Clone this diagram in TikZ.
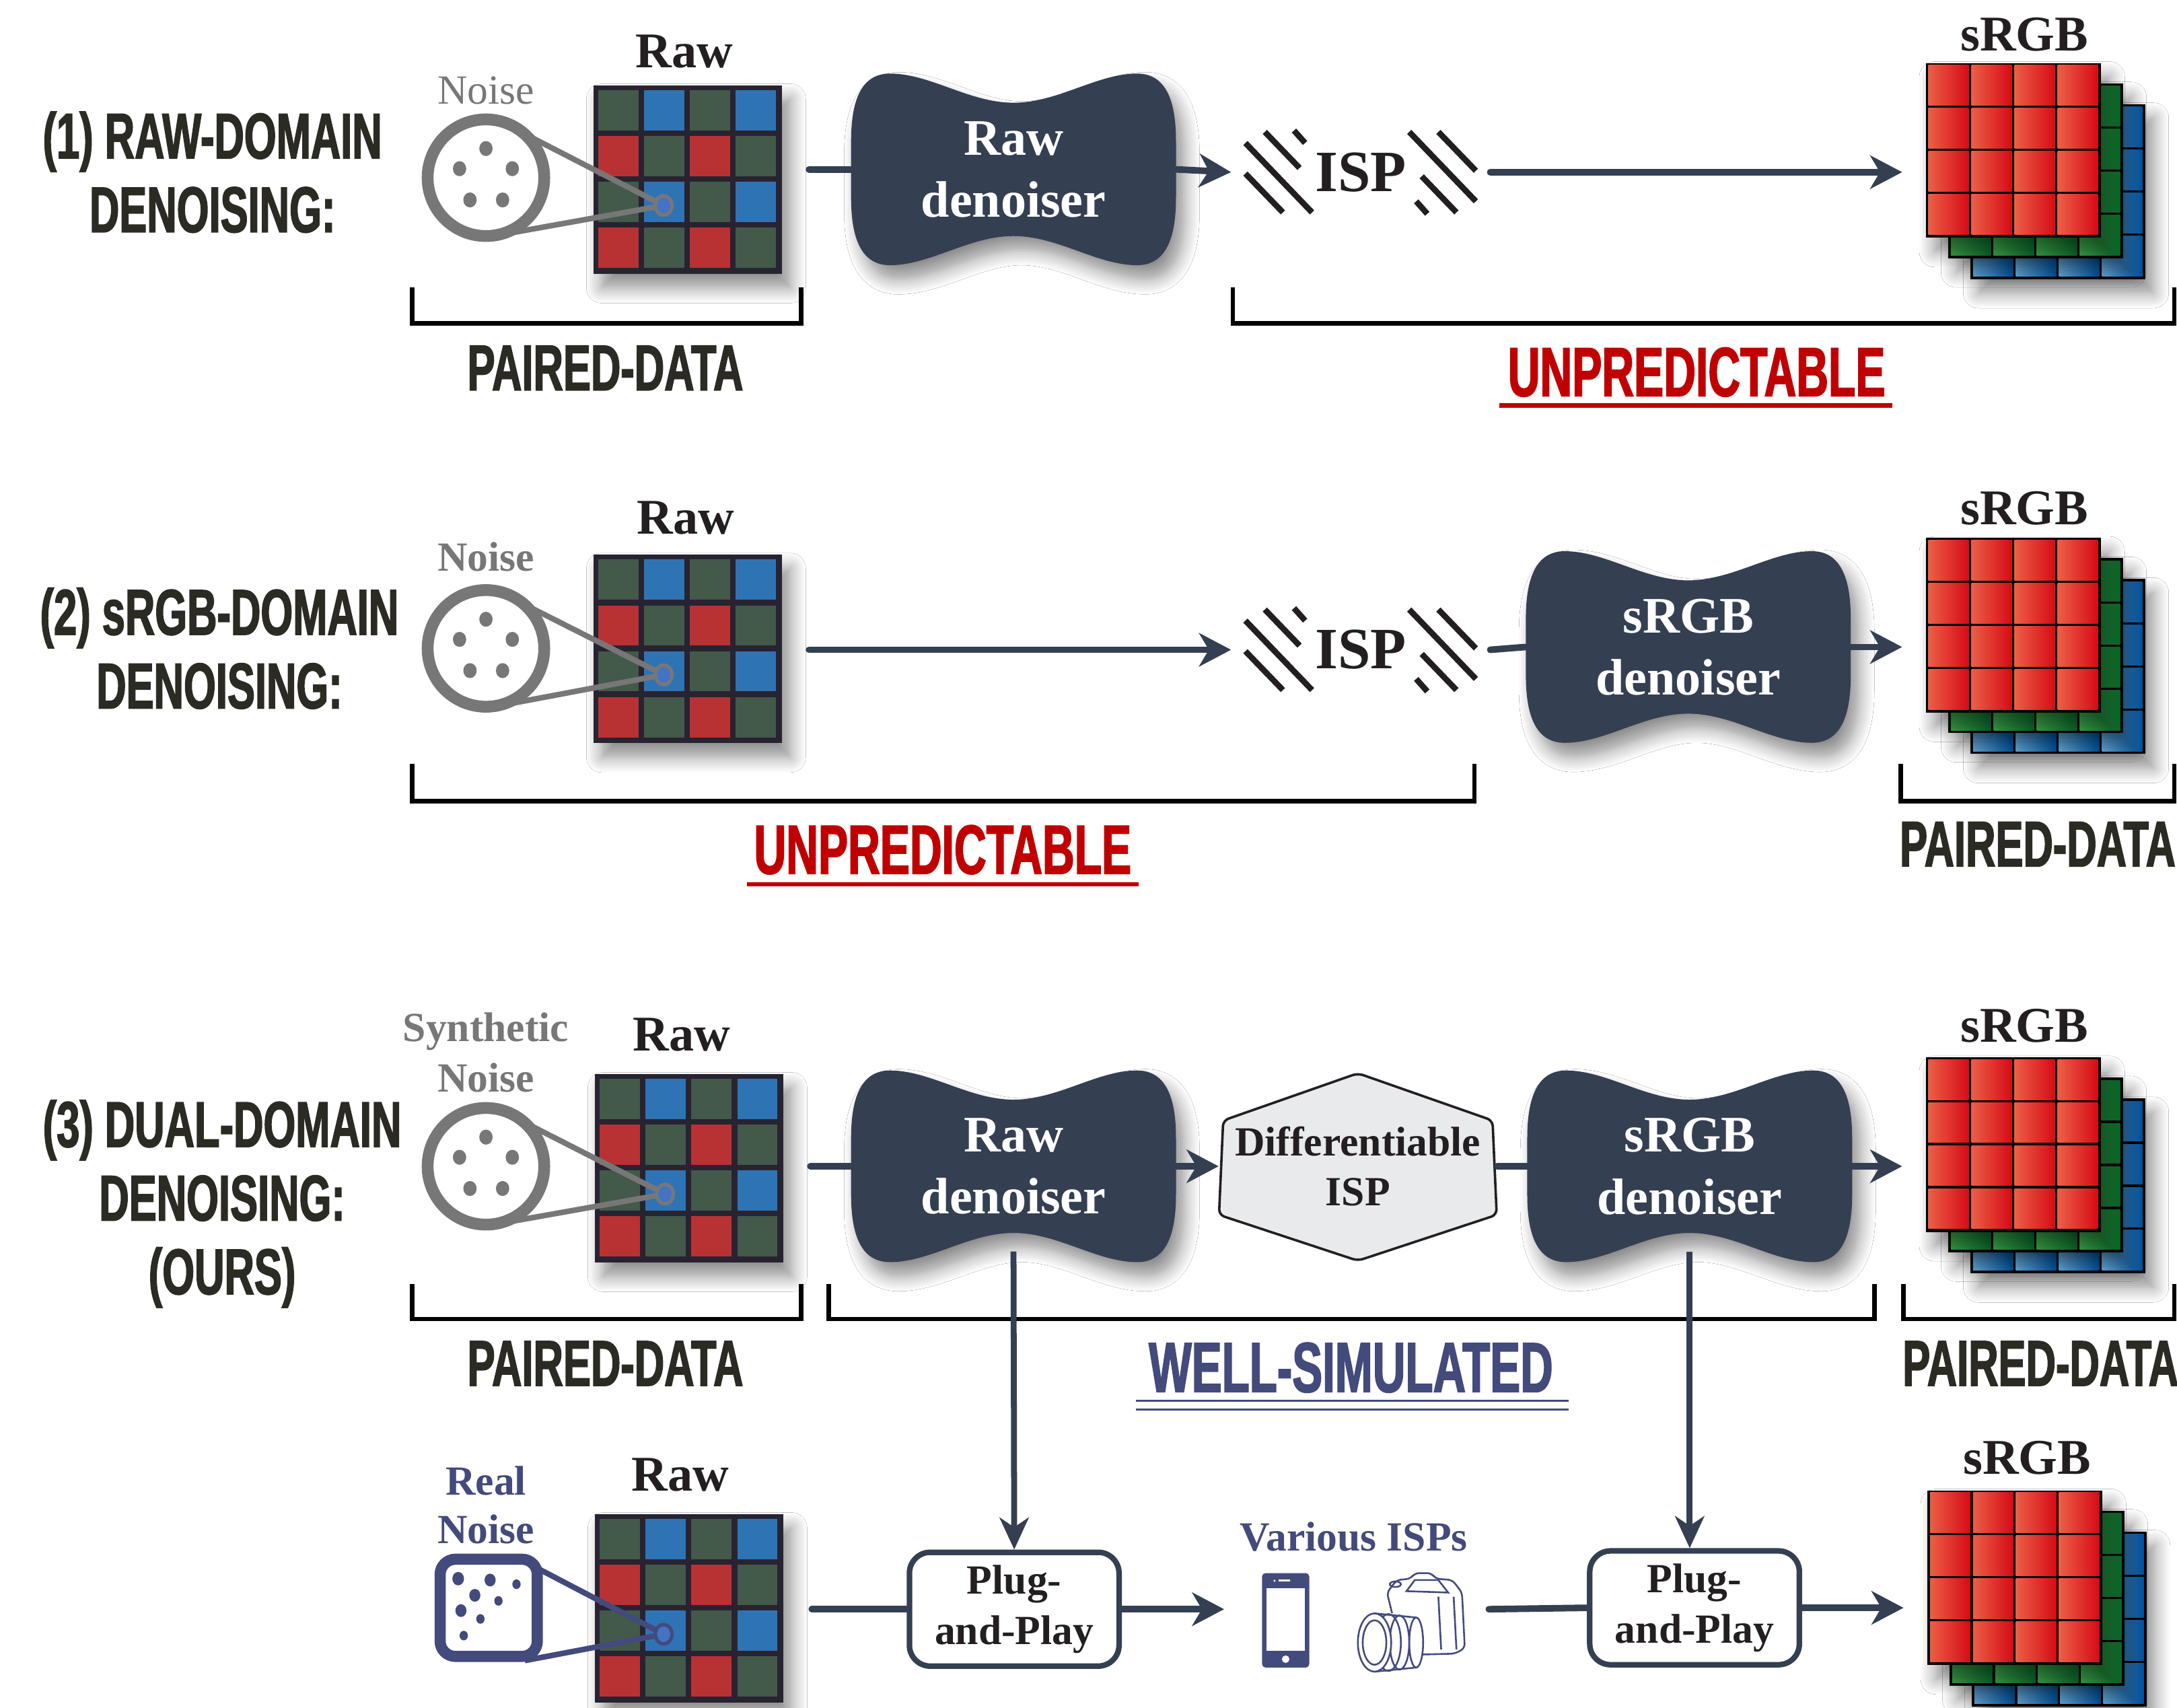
\documentclass[tikz,border=0pt]{standalone}
\usepackage{fontspec}
\setmainfont{Liberation Serif}
\newfontfamily\dispfont{Liberation Sans}[FakeStretch=0.64, FakeBold=1.6]
\usetikzlibrary{arrows.meta,shadows.blur}

\definecolor{slate}{HTML}{343F52}
\definecolor{ink}{HTML}{231F20}
\definecolor{olive}{HTML}{2B2B24}
\definecolor{unred}{HTML}{C00000}
\definecolor{navy}{HTML}{434A7C}
\definecolor{noisegray}{HTML}{777777}
\definecolor{bayerG}{HTML}{43594A}
\definecolor{bayerB}{HTML}{2E74B5}
\definecolor{bayerR}{HTML}{B83234}
\definecolor{gridline}{HTML}{282330}
\definecolor{dotblue}{HTML}{4472C4}
\definecolor{hexfill}{HTML}{E9EAEC}
\definecolor{redL}{HTML}{EC5E46}
\definecolor{redR}{HTML}{D40C16}
\definecolor{grnL}{HTML}{3DAA4A}
\definecolor{grnR}{HTML}{0B6A2C}
\definecolor{bluL}{HTML}{6BB3E8}
\definecolor{bluR}{HTML}{0058A8}

\tikzset{
  conn/.style={draw=slate, line width=0.095cm, line cap=round},
  arr/.style={conn, -{Stealth[length=0.46cm, width=0.48cm, inset=0.14cm]}},
  vconn/.style={draw=slate, line width=0.085cm, -{Stealth[length=0.46cm, width=0.42cm, inset=0.14cm]}},
  bracket/.style={draw=black, line width=0.065cm},
  softshadow/.style={blur shadow={shadow xshift=0.12cm, shadow yshift=-0.2cm,
      shadow blur steps=8, shadow blur radius=0.22cm, shadow opacity=45}},
  rawframe/.style={fill=gridline, minimum width=2.72cm, minimum height=2.72cm, inner sep=0, softshadow},
  stackframe/.style={fill=black, minimum width=2.52cm, minimum height=2.52cm, inner sep=0, softshadow},
  dentext/.style={text=white, font=\bfseries\fontsize{21}{25.5}\selectfont, align=center,
      minimum width=4.68cm, minimum height=2.76cm, inner sep=0},
  hextext/.style={text=ink, font=\bfseries\fontsize{17}{20.5}\selectfont, align=center,
      minimum width=4.0cm, minimum height=2.7cm, inner sep=0},
  isptext/.style={text=ink, font=\bfseries\fontsize{24}{28}\selectfont,
      minimum width=3.72cm, minimum height=1.4cm, inner sep=0},
  hatch/.style={draw=ink, line width=0.085cm},
  pnp/.style={draw=slate, line width=0.08cm, fill=white, rounded corners=0.3cm,
      minimum width=3.02cm, minimum height=1.64cm, align=center, text=ink,
      font=\bfseries\fontsize{17}{20.5}\selectfont, inner sep=0},
  imglabel/.style={text=ink, font=\bfseries\fontsize{20.5}{24}\selectfont, inner sep=0},
  graylabel/.style={text=noisegray, font=\bfseries\fontsize{17}{20.5}\selectfont, align=center, inner sep=0},
  navylabel/.style={text=navy, font=\bfseries\fontsize{17}{20}\selectfont, align=center, inner sep=0},
  rowlabel/.style={text=olive, font=\dispfont\bfseries\fontsize{26.5}{30.2}\selectfont, align=center, inner sep=0},
  tag/.style={text=olive, font=\dispfont\bfseries\fontsize{26.5}{30}\selectfont, inner sep=0},
  tagred/.style={text=unred, font=\dispfont\bfseries\fontsize{28.5}{32}\selectfont, inner sep=0},
  tagnavy/.style={text=navy, font=\dispfont\bfseries\fontsize{29}{33}\selectfont, inner sep=0},
}

% Bayer mosaic: name, left, top
\newcommand\rawgrid[3]{%
  \node[rawframe, anchor=north west] (#1) at (#2,#3) {};
  \foreach \r/\ca/\cb in {0/bayerG/bayerB,1/bayerR/bayerG,2/bayerG/bayerB,3/bayerR/bayerG}{%
    \foreach \c/\cc in {0/\ca,1/\cb,2/\ca,3/\cb}{%
      \fill[\cc] (#2+4+\c*33,#3+4+\r*33) rectangle ++(29,29);
    }%
  }%
}

% three stacked colour planes: name, left, top
\newcommand\srgbstack[3]{%
  \foreach \dx/\dy/\lc/\rc in {32/30/bluL/bluR,16/15/grnL/grnR}{%
    \fill[black, softshadow] (#2+\dx,#3+\dy) rectangle ++(126,126);
    \foreach \i in {0,...,3}{\foreach \j in {0,...,3}{%
      \shade[left color=\lc, right color=\rc] (#2+\dx+2+\i*31,#3+\dy+2+\j*31) rectangle ++(29,29);}}%
  }%
  \node[stackframe, anchor=north west] (#1) at (#2,#3) {};
  \foreach \i in {0,...,3}{\foreach \j in {0,...,3}{%
    \shade[left color=redL, right color=redR] (#2+2+\i*31,#3+2+\j*31) rectangle ++(29,29);}}%
}

% denoiser blob: name, centre, text
\newcommand\denoiser[3]{%
  \fill[slate, softshadow, shift={#2}]
    (-89,-69) .. controls (-60,-69) and (-32,-48) .. (0,-48)
    .. controls (32,-48) and (60,-69) .. (89,-69)
    .. controls (112,-69) and (117,-45) .. (117,-20) -- (117,20)
    .. controls (117,45) and (112,69) .. (89,69)
    .. controls (60,69) and (32,48) .. (0,48)
    .. controls (-32,48) and (-60,69) .. (-89,69)
    .. controls (-112,69) and (-117,45) .. (-117,20) -- (-117,-20)
    .. controls (-117,-45) and (-112,-69) .. (-89,-69) -- cycle;
  \node[dentext] (#1) at #2 {#3};
}

% hatched ISP mark: name, centre
\newcommand\ispmark[2]{%
  \node[isptext] (#1) at #2 {ISP};
  \begin{scope}[shift={#2}]
    \foreach \s in {1,-1}{%
      \draw[hatch] (-83*\s,1*\s) -- (-56*\s,29*\s);
      \draw[hatch] (-83*\s,-21*\s) -- (-35*\s,29*\s);
      \draw[hatch] (-69*\s,-29*\s) -- (-44*\s,-3*\s);
      \draw[hatch] (-48*\s,-30*\s) -- (-40*\s,-21*\s);
    }%
  \end{scope}
}

% magnified noise patch: centre x, centre y, target point
\newcommand\noiseicon[3]{%
  \draw[noisegray, line width=0.08cm] (#1+27,#2-32) -- #3;
  \draw[noisegray, line width=0.08cm] (#1+11,#2+41) -- #3;
  \filldraw[fill=white, draw=noisegray, line width=0.17cm] (#1,#2) circle[radius=42];
  \foreach \ox/\oy in {0/-21,-19/-6.5,19/-6.5,-11.5/16,12/16}{%
    \fill[noisegray] (#1+\ox,#2+\oy) ellipse[x radius=4.8, y radius=5.4];}
  \filldraw[fill=dotblue, draw=noisegray, line width=0.05cm] #3 ellipse[x radius=6, y radius=7];
}

\begin{document}
\begin{tikzpicture}[x=0.02cm, y=-0.02cm]
\useasboundingbox (0,0) rectangle (1568,1230);
\clip (0,0) rectangle (1568,1230);
\fill[white] (0,0) rectangle (1568,1230);

%% ---------- (1) raw-domain denoising ----------
\node[rowlabel] (lab1) at (153,124) {(1) RAW-DOMAIN\\DENOISING:};
\rawgrid{g1}{427}{61}
\noiseicon{350}{128}{(478,148)}
\node[graylabel, font=\fontsize{17}{20.5}\selectfont] (nz1) at (350,65) {Noise};
\node[imglabel] (raw1) at (493,37) {Raw};
\denoiser{rd1}{(730,122)}{Raw\\denoiser}
\ispmark{isp1}{(980,124)}
\srgbstack{s1}{1387}{45}
\node[imglabel] (rgb1) at (1458,25) {sRGB};

\draw[conn, shorten <=0.38cm] (g1.east |- rd1) -- (rd1.west);
\draw[arr] (rd1.east) -- (isp1.west);
\draw[arr, shorten >=0.34cm] (isp1.east) -- (isp1.east -| s1.west);

\draw[bracket] (297,207) |- (577,233) -- (577,207);
\draw[bracket] (888,207) |- (1566,233) -- (1566,207);
\node[tag] (pd1) at (436,265) {PAIRED-DATA};
\node[tagred] (up1) at (1222,268) {UNPREDICTABLE};
\draw[unred, line width=0.06cm] (1080,292) -- (1363,292);

%% ---------- (2) sRGB-domain denoising ----------
\node[rowlabel] (lab2) at (158,467) {(2) sRGB-DOMAIN\\DENOISING:};
\rawgrid{g2}{427}{399}
\noiseicon{350}{467}{(478,486)}
\node[graylabel] (nz2) at (350,401) {Noise};
\node[imglabel] (raw2) at (494,373) {Raw};
\ispmark{isp2}{(980,468)}
\denoiser{sd2}{(1216,466)}{sRGB\\denoiser}
\srgbstack{s2}{1387}{387}
\node[imglabel] (rgb2) at (1458,366) {sRGB};

\draw[arr, shorten <=0.38cm] (g2.east |- isp2) -- (isp2.west);
\draw[conn] (isp2.east) -- (sd2.west);
\draw[arr, shorten >=0.34cm] (sd2.east) -- (sd2.east -| s2.west);

\draw[bracket] (297,550) |- (1062,577) -- (1062,550);
\draw[bracket] (1369,550) |- (1566,577) -- (1566,550);
\node[tagred] (up2) at (679,612) {UNPREDICTABLE};
\draw[unred, line width=0.06cm] (538,637) -- (820,637);
\node[tag, anchor=west] (pd2) at (1368,608) {PAIRED-DATA};

%% ---------- (3) dual-domain denoising ----------
\node[rowlabel] (lab3) at (160,867) {(3) DUAL-DOMAIN\\DENOISING:\\(OURS)};
\rawgrid{g3}{428}{773}
\noiseicon{350}{840}{(479,860)}
\node[graylabel] (nz3) at (350,758) {Synthetic\\Noise};
\node[imglabel] (raw3) at (491,745) {Raw};
\denoiser{rd3}{(730,840)}{Raw\\denoiser}
\fill[hexfill, draw=ink, line width=0.035cm, rounded corners=0.08cm, shift={(978,840)}]
  (0,-67) -- (97,-33) -- (100,35) -- (0,68) -- (-100,35) -- (-97,-33) -- cycle;
\node[hextext] (disp) at (978,840) {Differentiable\\ISP};
\denoiser{sd3}{(1217,840)}{sRGB\\denoiser}
\srgbstack{s3}{1387}{761}
\node[imglabel] (rgb3) at (1458,739) {sRGB};

\draw[conn, shorten <=0.38cm] (g3.east |- rd3) -- (rd3.west);
\draw[arr] (rd3.east) -- (disp.west);
\draw[conn] (disp.east) -- (sd3.west);
\draw[arr, shorten >=0.34cm] (sd3.east) -- (sd3.east -| s3.west);

\draw[bracket] (297,925) |- (577,950) -- (577,925);
\draw[bracket] (597,925) |- (1350,950) -- (1350,925);
\draw[bracket] (1371,925) |- (1566,950) -- (1566,925);
\node[tag] (pd3) at (436,982) {PAIRED-DATA};
\node[tagnavy] (ws) at (973,985) {WELL-SIMULATED};
\draw[navy, line width=0.03cm] (818,1009) -- (1130,1009);
\draw[navy, line width=0.03cm] (818,1015) -- (1130,1015);
\node[tag, anchor=west] (pd4) at (1370,982) {PAIRED-DATA};

%% ---------- real-noise deployment ----------
\rawgrid{g4}{428}{1090}
\draw[navy, line width=0.08cm] (388,1130) -- (478,1177);
\draw[navy, line width=0.08cm] (378,1196) -- (478,1177);
\filldraw[fill=white, draw=navy, line width=0.16cm, rounded corners=0.22cm] (317,1123) rectangle (387,1193);
\foreach \px/\py/\pr in {330/1137/4.2,353/1138/4,372/1141/3,342/1149/4,359/1153/3,332/1160/4,346/1166/3,334/1178/3}{%
  \fill[navy] (\px,\py) ellipse[x radius=\pr, y radius=\pr*1.15];}
\filldraw[fill=dotblue, draw=navy, line width=0.05cm] (478,1177) ellipse[x radius=6, y radius=7];
\node[navylabel] (nz4) at (350,1084) {Real\\Noise};
\node[imglabel] (raw4) at (490,1062) {Raw};

\node[pnp] (pp1) at (730.5,1159) {Plug-\\and-Play};
\node[pnp] (pp2) at (1220.5,1158) {Plug-\\and-Play};
\node[minimum width=3.8cm, minimum height=1.6cm, inner sep=0] (visp) at (977,1159) {};
\node[navylabel] (vlab) at (975,1107) {Various ISPs};
\srgbstack{s4}{1388}{1073}
\node[imglabel] (rgb4) at (1460,1050) {sRGB};

% phone
\fill[navy, rounded corners=0.05cm] (909,1133) rectangle (943,1201);
\fill[white] (912,1144) rectangle (940,1189);
\fill[white] (926,1195) circle[radius=2.7];
\draw[white, line width=0.03cm] (921,1138.5) -- (929,1138.5);
\fill[white] (918,1138.5) circle[radius=0.8];

% camera
\begin{scope}[draw=navy, line width=0.025cm]
  \draw[fill=white, rounded corners=0.06cm] (999,1147) -- (1006,1138) -- (1016,1137) -- (1019,1133)
     -- (1031,1133) -- (1034,1137) -- (1046,1138) -- (1053,1147) -- (1055,1187) -- (1048,1191)
     -- (1010,1192) -- cycle;
  \draw (1013,1146) -- (1019,1138) -- (1036,1138) -- (1043,1147) -- cycle;
  \draw (1005,1141) ellipse[x radius=4, y radius=2];
  \draw (1047,1150) -- (1049,1188);
  \draw (1036,1150) -- (1038,1188);
  \fill[white] (990,1162) rectangle (1020,1204);
  \draw (990,1162) -- (1020,1165);
  \draw (990,1204) -- (1020,1201);
  \draw[fill=white] (1020,1183) ellipse[x radius=5, y radius=18];
  \draw (1008,1183) ellipse[x radius=7, y radius=19.5];
  \draw (1000,1183) ellipse[x radius=9, y radius=20.5];
  \draw[fill=white] (990,1183) ellipse[x radius=12, y radius=21];
  \draw (990,1183) ellipse[x radius=8.5, y radius=16];
\end{scope}

\draw[conn, shorten <=0.4cm] (g4.east |- pp1) -- (pp1.west);
\draw[arr] (pp1.east) -- (visp.west);
\draw[conn] (visp.east) -- (pp2.west);
\draw[arr, shorten >=0.34cm] (pp2.east) -- (pp2.east -| s4.west);

\draw[vconn, shorten <=-0.16cm] (rd3.south) -- (pp1.north);
\draw[vconn, shorten <=-0.16cm] (sd3.south) -- (sd3.south |- pp2.north);
\end{tikzpicture}
\end{document}
